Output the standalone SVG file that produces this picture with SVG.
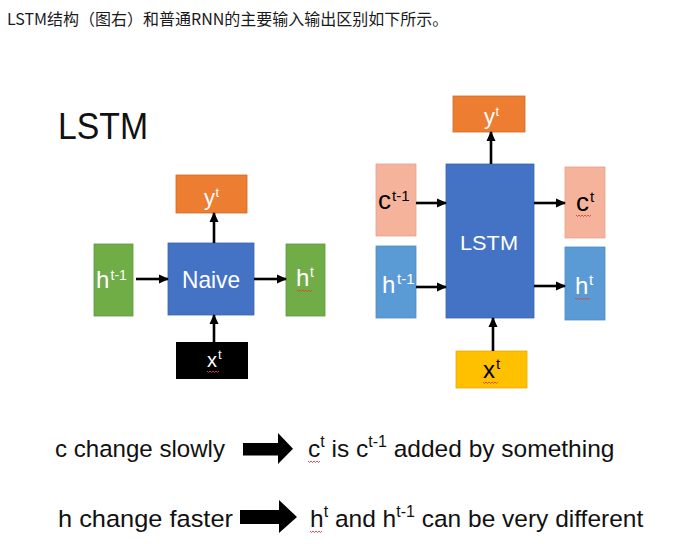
<svg xmlns="http://www.w3.org/2000/svg" width="681" height="544" viewBox="0 0 681 544">
<style>
  text { font-family: "Liberation Sans", Arial, sans-serif; }
  .w { fill: #ffffff; }
  .k { fill: #000000; }
  .lbl { font-size: 24px; }
  .lblc { font-size: 26px; }
  .sup { font-size: 15px; }
  .conn { stroke: #000; stroke-width: 2.6; fill: none; marker-end: url(#ah); }
  .big { font-size: 24.5px; fill: #111; }
  .bsup { font-size: 16px; }
  .sq { stroke: #e04040; stroke-width: 0.9; fill: none; }
</style>
<defs>
  <marker id="ah" markerUnits="userSpaceOnUse" markerWidth="10" markerHeight="10" viewBox="0 0 10 10" refX="9" refY="5" orient="auto">
    <path d="M0,0.5 L10,5 L0,9.5 z" fill="#000"/>
  </marker>
</defs>
<rect x="0" y="0" width="681" height="544" fill="#ffffff"/>

<text x="7" y="24.5" font-size="16" style="font-family:'Noto Sans CJK SC','Liberation Sans',sans-serif" fill="#1a1a1a">LSTM结构（图右）和普通RNN的主要输入输出区别如下所示。</text>

<text x="58" y="139" font-size="36" textLength="90" lengthAdjust="spacingAndGlyphs" fill="#111">LSTM</text>

<!-- Left: naive RNN -->
<g id="left-y">
  <rect x="176" y="175" width="71" height="38" fill="#ED7D31" stroke="#d06a25" stroke-width="0.8"/>
  <text x="204" y="205" font-size="22" class="w">y</text>
  <text x="215.5" y="197" font-size="13" class="w">t</text>
</g>
<g id="left-hprev">
  <rect x="94" y="244" width="39" height="72" fill="#70AD47" stroke="#5e9a3a" stroke-width="0.8"/>
  <text x="96" y="288" class="w lbl">h</text>
  <text x="110.5" y="280" font-size="14" class="w">t-1</text>
</g>
<g id="left-naive">
  <rect x="168" y="243" width="86" height="72" fill="#4472C4" stroke="#3a64b0" stroke-width="0.8"/>
  <text x="182" y="288" font-size="24" textLength="58" lengthAdjust="spacingAndGlyphs" class="w">Naive</text>
</g>
<g id="left-h">
  <rect x="286" y="244" width="39" height="72" fill="#70AD47" stroke="#5e9a3a" stroke-width="0.8"/>
  <text x="296" y="286" class="w lbl">h</text>
  <text x="310" y="277" font-size="14" class="w">t</text>
</g>
<g id="left-x">
  <rect x="176" y="342" width="72" height="37" fill="#000000"/>
  <text x="207" y="367" font-size="20" class="w">x</text>
  <text x="218" y="359" font-size="13" class="w">t</text>
</g>

<!-- Right: LSTM -->
<g id="right-y">
  <rect x="453" y="96" width="72" height="36" fill="#ED7D31" stroke="#d06a25" stroke-width="0.8"/>
  <text x="484" y="124" font-size="22" class="w">y</text>
  <text x="495.5" y="116" font-size="13" class="w">t</text>
</g>
<g id="right-cprev">
  <rect x="376" y="164" width="40" height="72" fill="#F5B39C" stroke="#e6a28a" stroke-width="0.8"/>
  <text x="378" y="209" class="k lblc">c</text>
  <text x="392" y="201" class="k sup">t-1</text>
</g>
<g id="right-hprev">
  <rect x="376" y="246" width="40" height="72" fill="#5B9BD5" stroke="#4d8cc6" stroke-width="0.8"/>
  <text x="382" y="293" class="w lbl">h</text>
  <text x="397" y="284" class="w sup">t-1</text>
</g>
<g id="right-lstm">
  <rect x="446" y="164" width="88" height="154" fill="#4472C4" stroke="#3a64b0" stroke-width="0.8"/>
  <text x="460" y="250" font-size="21" textLength="58" lengthAdjust="spacingAndGlyphs" class="w">LSTM</text>
</g>
<g id="right-c">
  <rect x="565" y="167" width="40" height="71" fill="#F5B39C" stroke="#e6a28a" stroke-width="0.8"/>
  <text x="576" y="211" class="k lblc">c</text>
  <text x="590" y="202" class="k sup">t</text>
</g>
<g id="right-h">
  <rect x="565" y="247" width="40" height="73" fill="#5B9BD5" stroke="#4d8cc6" stroke-width="0.8"/>
  <text x="575" y="294" class="w lbl">h</text>
  <text x="589" y="285" class="w sup">t</text>
</g>
<g id="right-x">
  <rect x="456" y="351" width="71" height="37" fill="#FFC000" stroke="#e6ad00" stroke-width="0.8"/>
  <text x="483" y="378" font-size="24" class="k">x</text>
  <text x="496" y="369" class="k sup">t</text>
</g>

<g id="connectors">
  <line class="conn" x1="136" y1="279" x2="168" y2="279"/>
  <line class="conn" x1="254" y1="279" x2="286" y2="279"/>
  <line class="conn" x1="214" y1="243" x2="214" y2="213"/>
  <line class="conn" x1="214" y1="342" x2="214" y2="315"/>
  <line class="conn" x1="416" y1="203" x2="446" y2="203"/>
  <line class="conn" x1="416" y1="287" x2="446" y2="287"/>
  <line class="conn" x1="534" y1="203" x2="565" y2="203"/>
  <line class="conn" x1="534" y1="286" x2="565" y2="286"/>
  <line class="conn" x1="491" y1="164" x2="491" y2="132"/>
  <line class="conn" x1="493" y1="351" x2="493" y2="318"/>
</g>

<!-- Bottom statements -->
<g id="row-c">
  <text x="55" y="457" class="big" textLength="170" lengthAdjust="spacingAndGlyphs">c change slowly</text>
  <path d="M243,443 H278 V433 L293,448.7 L278,464 V455.5 H243 Z" fill="#000"/>
  <text x="308" y="457" class="big">c<tspan class="bsup" dy="-10">t</tspan><tspan dy="10"> is c</tspan><tspan class="bsup" dy="-10">t-1</tspan><tspan dy="10"> added by something</tspan></text>
</g>
<g id="row-h">
  <text x="58" y="527" class="big" textLength="175" lengthAdjust="spacingAndGlyphs">h change faster</text>
  <path d="M240,510 H279 V500 L297,517 L279,533 V524 H240 Z" fill="#000"/>
  <text x="310" y="527" class="big">h<tspan class="bsup" dy="-10">t</tspan><tspan dy="10"> and h</tspan><tspan class="bsup" dy="-10">t-1</tspan><tspan dy="10"> can be very different</tspan></text>
</g>

<g id="spellcheck">
  <path class="sq" d="M297,290 l1.5,1.5 l1.5,-1.5 l1.5,1.5 l1.5,-1.5 l1.5,1.5 l1.5,-1.5 l1.5,1.5 l1.5,-1.5 l1.5,1.5 l1.5,-1.5"/>
  <path class="sq" d="M207,371 l1.5,1.5 l1.5,-1.5 l1.5,1.5 l1.5,-1.5 l1.5,1.5 l1.5,-1.5 l1.5,1.5 l1.5,-1.5"/>
  <path class="sq" d="M576,215 l1.5,1.5 l1.5,-1.5 l1.5,1.5 l1.5,-1.5 l1.5,1.5 l1.5,-1.5 l1.5,1.5 l1.5,-1.5 l1.5,1.5 l1.5,-1.5"/>
  <path class="sq" d="M575,298 l1.5,1.5 l1.5,-1.5 l1.5,1.5 l1.5,-1.5 l1.5,1.5 l1.5,-1.5 l1.5,1.5 l1.5,-1.5 l1.5,1.5 l1.5,-1.5"/>
  <path class="sq" d="M483,382 l1.5,1.5 l1.5,-1.5 l1.5,1.5 l1.5,-1.5 l1.5,1.5 l1.5,-1.5 l1.5,1.5 l1.5,-1.5 l1.5,1.5 l1.5,-1.5"/>
  <path class="sq" d="M308,461 l1.5,1.5 l1.5,-1.5 l1.5,1.5 l1.5,-1.5 l1.5,1.5 l1.5,-1.5 l1.5,1.5 l1.5,-1.5"/>
  <path class="sq" d="M310,531 l1.5,1.5 l1.5,-1.5 l1.5,1.5 l1.5,-1.5 l1.5,1.5 l1.5,-1.5 l1.5,1.5 l1.5,-1.5"/>
</g>
</svg>
